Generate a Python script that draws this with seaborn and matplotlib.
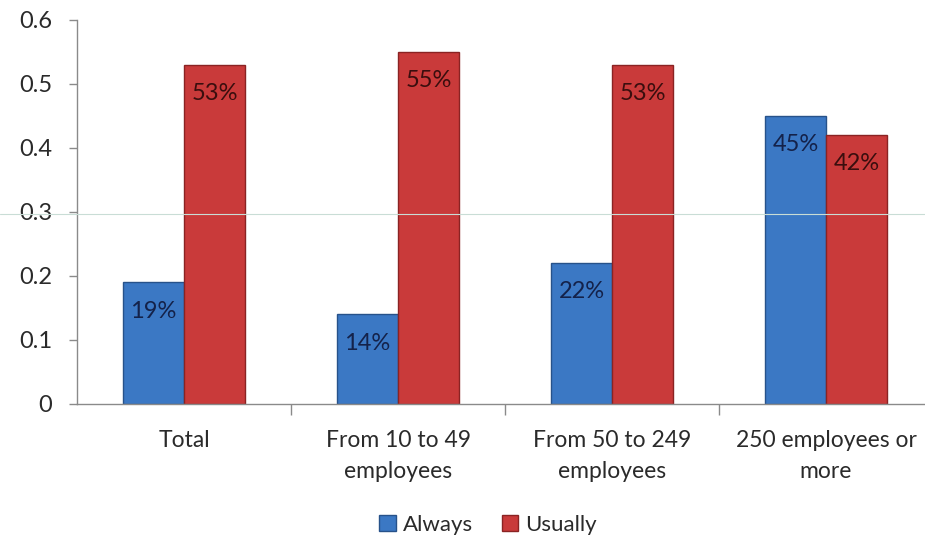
import matplotlib
matplotlib.use("Agg")
import matplotlib.pyplot as plt
import seaborn as sns
import pandas as pd
from matplotlib.lines import Line2D
from matplotlib.patches import Patch

categories = ["Total", "From 10 to 49\nemployees", "From 50 to 249\nemployees", "250 employees or\nmore"]
always = [0.19, 0.14, 0.22, 0.45]
usually = [0.53, 0.55, 0.53, 0.42]
series = ["Always", "Usually"]
yticks = [0, 0.1, 0.2, 0.3, 0.4, 0.5, 0.6]
yticklabels = ["0", "0.1", "0.2", "0.3", "0.4", "0.5", "0.6"]

sns.set_theme(style="white")
plt.rcParams['font.family'] = ['Lato', 'DejaVu Sans']

df = pd.DataFrame({
    "category": categories * 2,
    "value": always + usually,
    "series": [series[0]] * 4 + [series[1]] * 4,
})

colors = {"Always": "#3b78c4", "Usually": "#c93a3a"}
edges = {"Always": "#27528a", "Usually": "#8a2323"}
txtcol = {"Always": "#14224a", "Usually": "#3a0e0e"}

fig = plt.figure(figsize=(9.25, 5.39), dpi=100)
ax = fig.add_axes([77/925, 135/539, 856/925, 384/539])

sns.barplot(data=df, x="category", y="value", hue="series", palette=colors,
            width=0.57, gap=0, ax=ax, legend=False, saturation=1)

for cont, name in zip(ax.containers, series):
    for bar in cont:
        bar.set_edgecolor(edges[name])
        bar.set_linewidth(1.0)
    vals = always if name == "Always" else usually
    for bar, v in zip(cont, vals):
        ax.text(bar.get_x() + bar.get_width() / 2, v - 0.045, f"{round(v*100)}%",
                ha="center", va="center", fontsize=17, color=txtcol[name])

ax.set_ylim(0, 0.6)
ax.set_xlim(-0.5, 3.5)
ax.set_yticks(yticks)
ax.set_yticklabels(yticklabels)
ax.set_xlabel("")
ax.set_ylabel("")
ax.tick_params(axis="y", labelsize=17, length=6, width=1, color="#8a8a8a", left=True, pad=12, labelcolor="#2a2a2a")
ax.tick_params(axis="x", labelsize=16.5, length=0, pad=19, labelcolor="#2a2a2a")
for lab in ax.get_xticklabels():
    lab.set_linespacing(1.55)
ax.set_xticks([0.5, 1.5, 2.5], minor=True)
ax.tick_params(axis="x", which="minor", length=8, width=1, color="#8a8a8a", bottom=True)
for s in ["top", "right"]:
    ax.spines[s].set_visible(False)
for s in ["left", "bottom"]:
    ax.spines[s].set_color("#8a8a8a")
    ax.spines[s].set_linewidth(1)

handles = [Patch(facecolor=colors[s], edgecolor=edges[s], label=s) for s in series]
fig.legend(handles=handles, loc="center", bbox_to_anchor=(488/925, 14/539), ncol=2,
           frameon=False, fontsize=16, handlelength=0.75, handleheight=0.75,
           handletextpad=0.3, columnspacing=1.3, labelcolor="#2a2a2a")

fig.add_artist(Line2D([0, 1], [(539-214)/539, (539-214)/539], transform=fig.transFigure,
                      color="#c9ddd6", linewidth=0.8))

fig.savefig("out.png", dpi=100)
